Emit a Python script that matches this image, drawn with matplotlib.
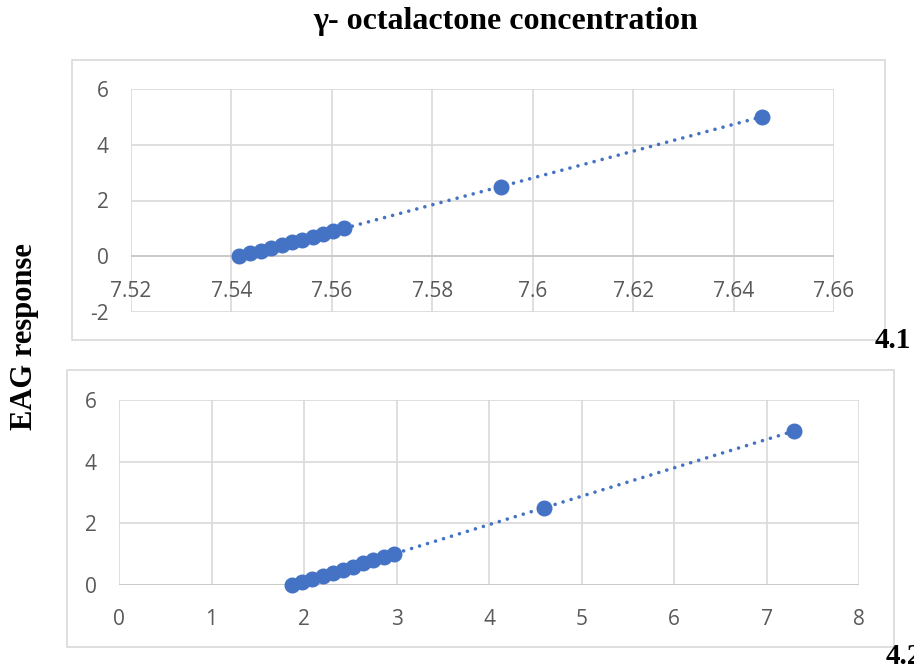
import numpy as np
import matplotlib
matplotlib.use("Agg")
from matplotlib import pyplot as plt
from matplotlib.patches import Rectangle

plt.rcParams["axes.unicode_minus"] = False

# EAG response vs concentration (two panels)
eag = [0, 0.1, 0.2, 0.3, 0.4, 0.5, 0.6, 0.7, 0.8, 0.9, 1.0, 2.5, 5.0]
conc_41 = [7.5416, 7.5437, 7.5458, 7.5479, 7.5500, 7.5520, 7.5541,
           7.5562, 7.5583, 7.5603, 7.5624, 7.5936, 7.6456]
conc_42 = [1.87, 1.98, 2.09, 2.20, 2.31, 2.42, 2.53, 2.64, 2.75, 2.86,
           2.97, 4.59, 7.30]

xticks_41 = [7.52, 7.54, 7.56, 7.58, 7.60, 7.62, 7.64, 7.66]
xlabels_41 = ["7.52", "7.54", "7.56", "7.58", "7.6", "7.62", "7.64", "7.66"]
yticks_41 = [-2, 0, 2, 4, 6]
xticks_42 = [0, 1, 2, 3, 4, 5, 6, 7, 8]
yticks_42 = [0, 2, 4, 6]

blue = "#4472C4"
grid = "#D9D9D9"
tick_col = "#595959"
W, H = 914, 667

fig = plt.figure(figsize=(W / 100, H / 100), dpi=100)

def box(l, t, r, b):
    fig.patches.append(Rectangle((l / W, 1 - b / H), (r - l) / W, (b - t) / H,
                                 transform=fig.transFigure, fill=False,
                                 edgecolor=grid, lw=1.2))

def panel(rect, x, y, xt, xl, yt, xlim, ylim):
    l, t, r, b = rect
    ax = fig.add_axes([l / W, 1 - b / H, (r - l) / W, (b - t) / H])
    ax.set_xlim(*xlim)
    ax.set_ylim(*ylim)
    ax.set_xticks(xt)
    ax.set_xticklabels(xl)
    ax.set_yticks(yt)
    ax.grid(True, color=grid, lw=1.2)
    ax.set_axisbelow(True)
    for s in ax.spines.values():
        s.set_visible(False)
    ax.spines["bottom"].set_position(("data", 0))
    ax.tick_params(length=0, labelsize=15, labelcolor=tick_col, pad=0)
    ax.tick_params(axis="y", pad=16)
    ax.tick_params(axis="x", pad=17.5)
    for lab in ax.get_xticklabels() + ax.get_yticklabels():
        lab.set_fontfamily("Open Sans")
    ax.axhline(0, color="#C8C8C8", lw=1.3, zorder=1)
    # linear trendline
    k, c = np.polyfit(x, y, 1)
    xs = np.array([min(x), max(x)])
    ax.plot(xs, k * xs + c, color=blue, lw=2.6, linestyle=(0, (0.01, 2.3)),
            dash_capstyle="round", zorder=2)
    ax.plot(x, y, "o", color=blue, markersize=10.5, zorder=3, clip_on=False)
    return ax

box(72, 60, 885, 340)
box(67, 370, 894, 647)

panel((131, 89, 834, 312), conc_41, eag, xticks_41, xlabels_41, yticks_41,
      (7.52, 7.66), (-2, 6))
panel((119, 400, 859, 585), conc_42, eag, xticks_42,
      [str(v) for v in xticks_42], yticks_42, (0, 8), (0, 6))

serif = "Liberation Serif"
fig.text(506 / W, 1 - 21 / H, "γ- octalactone concentration", ha="center",
         va="center", fontsize=23, fontweight="bold", family=serif)
fig.text(25 / W, 1 - 337 / H, "EAG response", ha="center", va="center",
         rotation=90, fontsize=22, fontweight="bold", family=serif)
fig.text(875 / W, 1 - 348 / H, "4.1", ha="left", va="baseline",
         fontsize=21, fontweight="bold", family=serif)
fig.text(886 / W, 1 - 664 / H, "4.2", ha="left", va="baseline",
         fontsize=21, fontweight="bold", family=serif)

fig.savefig("out.png", dpi=100)
